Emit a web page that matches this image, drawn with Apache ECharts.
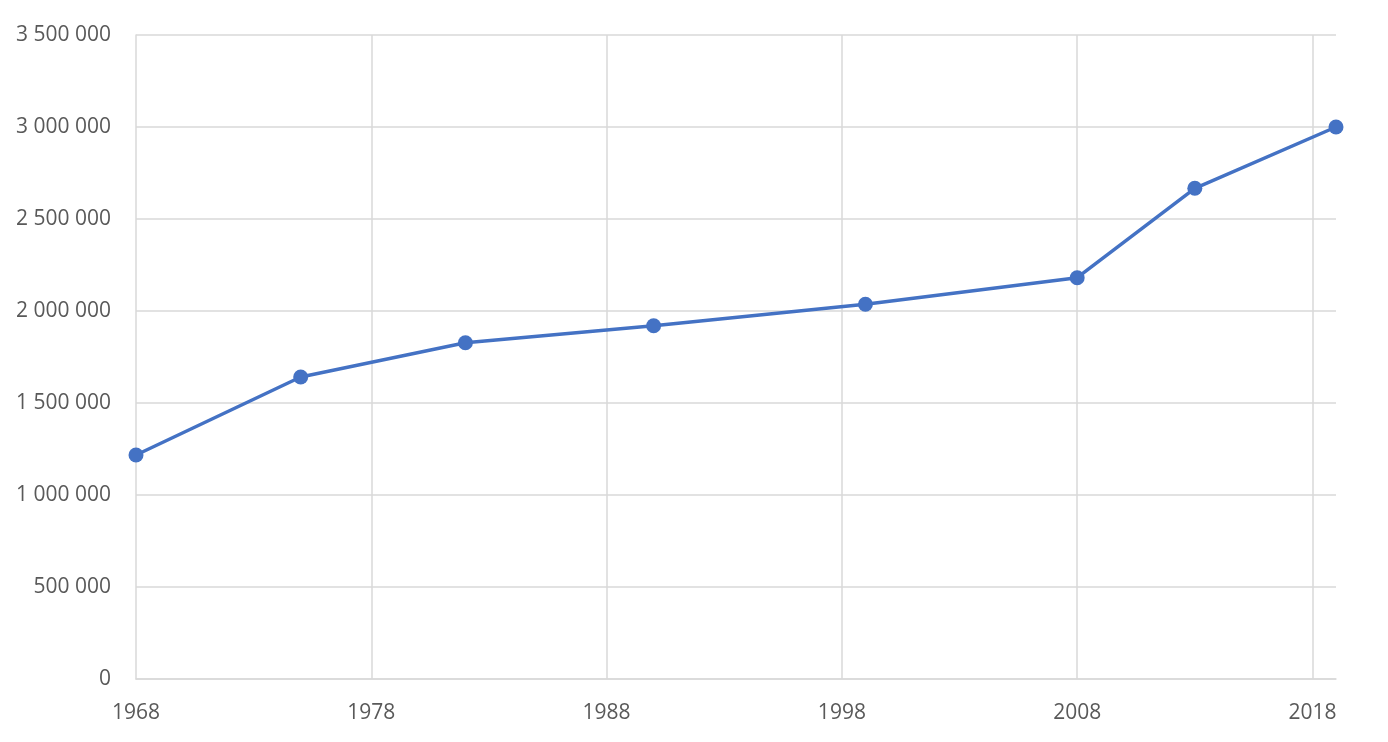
<!DOCTYPE html>
<html>
<head>
<meta charset="utf-8">
<script src="https://cdn.jsdelivr.net/npm/echarts@6/dist/echarts.min.js"></script>
<style>
html,body{margin:0;padding:0;background:#fff;}
#c{width:1388px;height:742px;}
</style>
</head>
<body>
<div id="c"></div>
<script>
const years = [1968, 1975, 1982, 1990, 1999, 2008, 2013, 2019];
const values = [1217400, 1641300, 1827700, 1920100, 2036400, 2181000, 2666800, 3000000];
const xTicks = [1968, 1978, 1988, 1998, 2008, 2018];
const yTicks = [0, 500000, 1000000, 1500000, 2000000, 2500000, 3000000, 3500000];

function fmt(v){ return String(v).replace(/\B(?=(\d{3})+(?!\d))/g, ' '); }

const chart = echarts.init(document.getElementById('c'));
chart.setOption({
  animation: false,
  grid: {left: 136, right: 52, top: 35, bottom: 63, containLabel: false},
  xAxis: {
    type: 'value', min: 1968, max: 2019, interval: 10,
    axisLine: {show: true, lineStyle: {color: '#d9d9d9', width: 1.5}},
    axisTick: {show: false},
    splitLine: {show: true, showMinLine: false, showMaxLine: false, lineStyle: {color: '#d9d9d9', width: 1.5}},
    axisLabel: {
      color: '#595959', fontSize: 21, fontFamily: 'Open Sans', margin: 24,
      showMaxLabel: false,
      formatter: v => xTicks.includes(v) ? String(v) : ''
    }
  },
  yAxis: {
    type: 'value', min: 0, max: 3500000, interval: 500000,
    axisLine: {show: true, lineStyle: {color: '#d9d9d9', width: 1.5}},
    axisTick: {show: false},
    splitLine: {show: true, lineStyle: {color: '#d9d9d9', width: 1.5}},
    axisLabel: {
      color: '#595959', fontSize: 21, fontFamily: 'Open Sans', margin: 25,
      formatter: v => yTicks.includes(v) ? fmt(v) : ''
    }
  },
  series: [{
    type: 'line',
    data: years.map((y, i) => [y, values[i]]),
    symbol: 'circle', symbolSize: 15,
    lineStyle: {color: '#4472C4', width: 3.5},
    itemStyle: {color: '#4472C4'}
  }]
});
</script>
</body>
</html>
